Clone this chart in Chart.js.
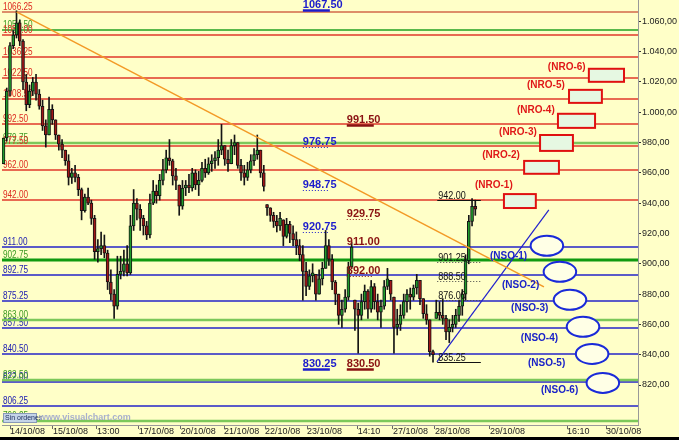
<!DOCTYPE html>
<html>
<head>
<meta charset="utf-8">
<script src="https://cdn.jsdelivr.net/npm/chart.js@4.4.1/dist/chart.umd.min.js"></script>
<style>
html, body { margin: 0; padding: 0; background: #000; }
#wrap { width: 679px; height: 437px; background: #ffffc8; }
</style>
</head>
<body>
<div id="wrap"><canvas id="c" width="679" height="437"></canvas></div>
<script>
// bar index of the first bar (14/10/08 session starts at 0)
var firstBar = -2;
var highs = [983,1016,1046,1054,1067,1061,1048,1025,1018,1023,1025,1015,
    1008,995,1010,1005,995,985,982,975,972,963,
    965,959,950,946,950,942,932,916,921,919,
    909,896,883,905,905,909,912,932,949,943,
    939,932,928,946,955,952,959,969,975,982,
    969,963,952,955,955,959,963,962,961,967,
    969,970,972,974,982,992,978,975,982,985,
    980,969,965,967,972,976,985,975,965,939,
    937,934,932,934,929,930,928,925,921,916,
    912,901,896,900,893,896,901,922,916,906,
    889,880,876,883,901,914,876,874,880,886,
    883,889,887,880,876,889,897,889,878,870,
    873,880,883,884,886,893,889,877,873,863,
    843,876,875,877,866,863,866,870,876,883,
    906,932,943,942];
var lows = [966,981,1011,1042,1049,1044,1015,1001,1003,1011,1008,1002,
    988,977,985,992,982,975,970,965,952,953,
    954,945,929,934,939,926,903,901,906,904,
    883,876,864,870,890,892,892,893,922,929,
    922,919,916,917,939,940,942,952,960,965,
    952,949,932,936,945,947,948,949,945,954,
    957,959,961,963,965,972,965,961,966,972,
    963,955,952,955,960,965,969,957,948,932,
    928,924,921,922,912,917,914,912,906,902,
    876,879,883,888,876,880,886,897,899,883,
    873,860,858,868,876,897,856,841,863,870,
    864,868,870,863,858,870,883,876,841,853,
    856,864,868,870,876,880,873,864,860,839,
    835,864,863,860,850,848,855,858,862,866,
    876,900,925,932];
var closes = [983,1014,1044,1051,1059,1047,1020,1005,1014,1020,1012,1004,
    991,985,1002,995,985,979,975,968,957,960,
    957,949,935,944,940,930,908,910,912,907,
    888,880,872,893,895,900,894,925,940,936,
    930,925,919,940,948,945,955,962,970,968,
    958,955,938,950,952,950,960,952,955,963,
    960,966,968,970,975,978,969,966,978,980,
    965,960,957,962,968,972,975,960,951,937,
    932,928,925,930,918,926,920,916,912,906,
    895,885,892,894,880,890,897,912,903,888,
    880,866,870,878,898,911,870,866,875,882,
    870,885,875,868,872,885,890,880,858,860,
    866,875,880,878,884,889,877,867,863,842,
    840,868,866,864,855,858,860,866,872,880,
    902,928,938,936];

var xTickPos = [0, 13.2, 26.7, 39.6, 52.5, 65.8, 78.4, 91.3, 106.9, 117.7, 130.6, 147.5, 171.2, 183.2];
var xTickLabels = ['14/10/08','15/10/08','13:00','17/10/08','20/10/08','21/10/08','22/10/08','23/10/08','14:10','27/10/08','28/10/08','29/10/08','16:10','30/10/08'];
var yTickVals = [820, 840, 860, 880, 900, 920, 940, 960, 980, 1000, 1020, 1040, 1060];

// horizontal levels
var resistLevels = [1066.25, 1051.00, 1036.25, 1022.50, 1008.50, 992.50, 977.50, 962.00, 942.00];
var supportLevels = [911.00, 892.75, 875.25, 857.50, 840.50, 822.00, 806.25];
var pivotLevels = [1054.50, 979.75, 902.75, 863.00, 823.50, 796.25];

// value notes in the middle of the chart
var noteVals = [1067.50, 976.75, 948.75, 920.75, 830.25, 991.50, 929.75, 911.00, 892.00, 830.50];
var noteSide = ['b','b','b','b','b','r','r','r','r','r'];
var noteLine = ['solid','dotted','dotted','dotted','solid','solid','dotted','none','dotted','solid'];

// black notes near the last bars
var markVals = [942.00, 901.25, 888.50, 876.00, 835.25];
var markLine = ['solid','dotted','dotted','dotted','solid'];

// trend lines (bar index, price)
var orangeTrend = [{x: 2, y: 1066.25}, {x: 164.1, y: 884.8}];
var blueTrend = [{x: 131.2, y: 835.25}, {x: 165.6, y: 935.6}];

// targets
var nroNames = ['(NRO-1)','(NRO-2)','(NRO-3)','(NRO-4)','(NRO-5)','(NRO-6)'];
var nroLabelX = [142.9, 145.1, 150.3, 155.8, 158.9, 165.3];
var nroLabelY = [950, 969.9, 985, 999.6, 1016, 1028];
var nroBoxX0 = [151.8, 158, 162.9, 168.4, 171.8, 177.9];
var nroBoxX1 = [161.6, 168.7, 173, 179.8, 181.9, 188.7];
var nroBoxTop = [946, 967.9, 985, 999, 1014.8, 1028.7];
var nroBoxBot = [936.8, 959.4, 974.5, 989.7, 1006.2, 1020.1];

var nsoNames = ['(NSO-1)','(NSO-2)','(NSO-3)','(NSO-4)','(NSO-5)','(NSO-6)'];
var nsoLabelX = [147.5, 151.2, 154, 157, 159.2, 163.2];
var nsoLabelY = [903.2, 884, 869, 849, 832.6, 814.8];
var nsoCx = [165, 169, 172.1, 176.1, 178.9, 182.2];
var nsoCy = [911.9, 894.7, 876.2, 858.4, 840.5, 821.4];

var sans = '"Liberation Sans", Arial, sans-serif';

function fmtEs(v) {
    var p = v.toFixed(2).split('.');
    return p[0].replace(/\B(?=(\d{3})+(?!\d))/g, '.') + ',' + p[1];
}

// narrow text: squeeze the glyphs horizontally
function narrowText(ctx, text, x, y, font, squeeze) {
    ctx.save();
    ctx.font = font;
    ctx.translate(x, y);
    ctx.scale(squeeze, 1);
    ctx.fillText(text, 0, 0);
    ctx.restore();
}

var wicks = [], bodies = [], bodyColors = [];
for (var i = 0; i < closes.length; i++) {
    var o = i === 0 ? lows[0] : Math.min(Math.max(closes[i - 1], lows[i]), highs[i]);
    wicks.push({x: firstBar + i, y: [lows[i], highs[i]]});
    bodies.push({x: firstBar + i, y: [o, closes[i]]});
    bodyColors.push(closes[i] >= o ? '#1f9a2a' : '#a01616');
}

var levelsPlugin = {
    id: 'levels',
    beforeDatasetsDraw: function (chart) {
        var ctx = chart.ctx, a = chart.chartArea, ys = chart.scales.y;
        ctx.save();
        function draw(vals, color, textColor, widthFn) {
            vals.forEach(function (v) {
                var py = Math.round(ys.getPixelForValue(v));
                ctx.strokeStyle = typeof color === 'function' ? color(v) : color;
                ctx.lineWidth = widthFn(v);
                ctx.beginPath();
                ctx.moveTo(a.left, py);
                ctx.lineTo(a.right, py);
                ctx.stroke();
                ctx.fillStyle = textColor;
                narrowText(ctx, v.toFixed(2), a.left + 1, py - 2, '10px ' + sans, 0.82);
            });
        }
        draw(supportLevels, '#2424c8', '#2020b0', function () { return 1.5; });
        draw(pivotLevels, function (v) {
            if (v === 902.75) return '#109a10';
            if (v === 1054.50) return '#22a022';
            return '#7cc85a';
        }, '#3c9a22', function (v) {
            if (v === 902.75) return 3;
            if (v === 1054.50) return 1.5;
            return 2.5;
        });
        draw(resistLevels, function (v) { return v > 1060 ? '#d2694a' : '#e0392b'; }, '#dd2a20', function () { return 1.5; });
        ctx.restore();
    },
    afterDatasetsDraw: function (chart) {
        var ctx = chart.ctx, a = chart.chartArea, xs = chart.scales.x, ys = chart.scales.y;
        ctx.save();
        ctx.beginPath();
        ctx.rect(a.left, a.top, a.right - a.left, a.bottom - a.top);
        ctx.clip();

        // middle notes
        noteVals.forEach(function (v, i) {
            var blue = noteSide[i] === 'b';
            var px = xs.getPixelForValue(blue ? 90 : 103.5);
            var py = Math.round(ys.getPixelForValue(v));
            var col = blue ? '#1c1ccc' : '#8a1212';
            ctx.fillStyle = col;
            ctx.font = 'bold 11px ' + sans;
            ctx.fillText(v.toFixed(2), px, py - 2);
            ctx.strokeStyle = col;
            if (noteLine[i] === 'solid') {
                ctx.lineWidth = 2.5;
                ctx.setLineDash([]);
            } else if (noteLine[i] === 'dotted') {
                ctx.lineWidth = 1;
                ctx.setLineDash([1, 2]);
            } else return;
            ctx.beginPath();
            ctx.moveTo(px, py + 0.5);
            ctx.lineTo(px + 27, py + 0.5);
            ctx.stroke();
        });
        ctx.setLineDash([]);

        // black notes
        var mx0 = xs.getPixelForValue(131.3), mx1 = xs.getPixelForValue(144.7);
        markVals.forEach(function (v, i) {
            var py = Math.round(ys.getPixelForValue(v)) + 0.5;
            ctx.fillStyle = '#111';
            narrowText(ctx, v.toFixed(2), mx0 + 1, py - 2, '11px ' + sans, 0.82);
            ctx.strokeStyle = markLine[i] === 'solid' ? '#111' : '#444';
            ctx.lineWidth = 1;
            ctx.setLineDash(markLine[i] === 'solid' ? [] : [1, 2]);
            ctx.beginPath();
            ctx.moveTo(mx0, py);
            ctx.lineTo(mx1, py);
            ctx.stroke();
        });
        ctx.setLineDash([]);

        // NRO boxes
        ctx.font = 'bold 10px ' + sans;
        nroNames.forEach(function (t, i) {
            var x0 = xs.getPixelForValue(nroBoxX0[i]), x1 = xs.getPixelForValue(nroBoxX1[i]);
            var y0 = ys.getPixelForValue(nroBoxTop[i]), y1 = ys.getPixelForValue(nroBoxBot[i]);
            ctx.fillStyle = '#e6f8e2';
            ctx.fillRect(x0, y0, x1 - x0, y1 - y0);
            ctx.strokeStyle = '#e01010';
            ctx.lineWidth = 2;
            ctx.strokeRect(x0, y0, x1 - x0, y1 - y0);
            ctx.fillStyle = '#e01818';
            ctx.fillText(t, xs.getPixelForValue(nroLabelX[i]), ys.getPixelForValue(nroLabelY[i]));
        });

        // NSO ellipses
        nsoNames.forEach(function (t, i) {
            var cx = xs.getPixelForValue(nsoCx[i]), cy = ys.getPixelForValue(nsoCy[i]);
            var rx = xs.getPixelForValue(nsoCx[i] + 5) - cx;
            var ry = ys.getPixelForValue(nsoCy[i]) - ys.getPixelForValue(nsoCy[i] + 6.6);
            ctx.beginPath();
            ctx.ellipse(cx, cy, rx, ry, 0, 0, Math.PI * 2);
            ctx.fillStyle = '#ffffe6';
            ctx.fill();
            ctx.strokeStyle = '#1a2ad8';
            ctx.lineWidth = 2;
            ctx.stroke();
            ctx.fillStyle = '#1a22c8';
            ctx.fillText(t, xs.getPixelForValue(nsoLabelX[i]), ys.getPixelForValue(nsoLabelY[i]));
        });

        // footer marks
        ctx.fillStyle = '#c4d4e8';
        ctx.fillRect(a.left + 1, a.bottom - 12, 33, 9);
        ctx.strokeStyle = '#8898b8';
        ctx.lineWidth = 1;
        ctx.strokeRect(a.left + 1.5, a.bottom - 11.5, 33, 9);
        ctx.fillStyle = '#203060';
        ctx.font = '7px ' + sans;
        ctx.fillText('Sin ordenes', a.left + 3, a.bottom - 5);
        ctx.fillStyle = '#a8b0cc';
        ctx.font = 'bold 9px ' + sans;
        ctx.fillText('www.visualchart.com', a.left + 37, a.bottom - 5);
        ctx.restore();
    }
};

function noPadding(axis) {
    axis.paddingTop = 0;
    axis.paddingBottom = 0;
    axis.paddingLeft = 0;
    axis.paddingRight = 0;
}

var ctx = document.getElementById('c');
var chart = new Chart(ctx, {
    type: 'bar',
    data: {
        datasets: [{
            type: 'bar',
            data: wicks,
            backgroundColor: '#151515',
            barThickness: 1,
            grouped: false,
            order: 3
        }, {
            type: 'bar',
            data: bodies,
            backgroundColor: bodyColors,
            borderColor: '#151515',
            borderWidth: 1,
            borderSkipped: false,
            barThickness: 3,
            minBarLength: 1,
            grouped: false,
            order: 2
        }, {
            type: 'line',
            data: orangeTrend,
            borderColor: '#f39a26',
            borderWidth: 1.5,
            pointRadius: 0,
            order: 1
        }, {
            type: 'line',
            data: blueTrend,
            borderColor: '#2222cc',
            borderWidth: 1.2,
            pointRadius: 0,
            order: 1
        }]
    },
    options: {
        responsive: false,
        animation: false,
        layout: { padding: { left: 2, top: 0, right: 0, bottom: 0 } },
        plugins: { legend: { display: false }, tooltip: { enabled: false } },
        scales: {
            x: {
                type: 'linear',
                min: -2.46,
                max: 193,
                offset: false,
                grid: { drawOnChartArea: false, tickLength: 4, color: '#666', offset: false },
                border: { color: '#999' },
                afterBuildTicks: function (axis) {
                    axis.ticks = xTickPos.map(function (v) { return {value: v}; });
                },
                afterFit: function (axis) { axis.height = 12; noPadding(axis); },
                ticks: {
                    autoSkip: false,
                    maxRotation: 0,
                    align: 'start',
                    padding: -3,
                    color: '#222',
                    font: { family: sans, size: 9 },
                    callback: function (v, i) { return xTickLabels[i]; }
                }
            },
            y: {
                position: 'right',
                min: 793.6,
                max: 1074.1,
                grid: { drawOnChartArea: false, tickLength: 3, color: '#333' },
                border: { color: '#999' },
                afterBuildTicks: function (axis) {
                    axis.ticks = yTickVals.map(function (v) { return {value: v}; });
                },
                afterFit: function (axis) { axis.width = 41; noPadding(axis); },
                ticks: {
                    padding: 1,
                    color: '#222',
                    font: { family: sans, size: 9 },
                    callback: function (v) { return fmtEs(v); }
                }
            }
        }
    },
    plugins: [levelsPlugin]
});
</script>
</body>
</html>
